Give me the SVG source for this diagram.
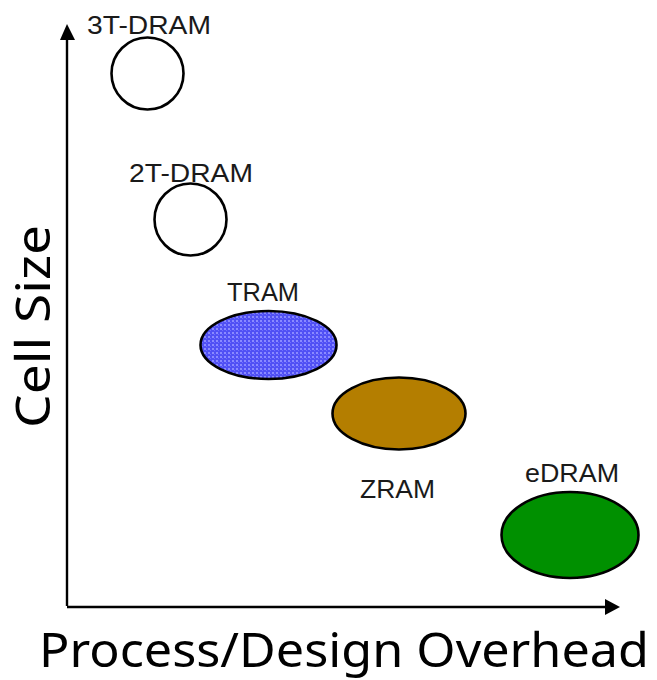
<svg xmlns="http://www.w3.org/2000/svg" width="657" height="680" viewBox="0 0 657 680">
<style>
.lbl{font-family:"Liberation Sans",Arial,sans-serif;font-size:25px;fill:#1a1a1a}
.big{font-family:"Noto Sans","Liberation Sans",sans-serif;font-size:47px;fill:#000}
.shape{stroke:#000;stroke-width:2.6}
.axis{stroke:#000;stroke-width:2.4;fill:none}
</style>
<defs>
<pattern id="dots" width="4" height="4" patternUnits="userSpaceOnUse">
<rect width="4" height="4" fill="#5050f4"/>
<rect x="0" y="0" width="2" height="2" fill="#8a8aff"/>
<rect x="2" y="2" width="1" height="1" fill="#7070ff"/>
</pattern>
</defs>
<rect width="657" height="680" fill="#fff"/>
<g id="axes">
<line class="axis" x1="67" y1="38" x2="67" y2="606"/>
<polygon points="67,24 60,40 75,40" fill="#000"/>
<line class="axis" x1="67" y1="607" x2="607" y2="607"/>
<polygon points="620,607 605,599 605,615" fill="#000"/>
</g>
<g id="n3t">
<circle class="shape" cx="147.5" cy="73.5" r="36" fill="#fff"/>
<text class="lbl" x="87" y="34" textLength="124" lengthAdjust="spacingAndGlyphs">3T-DRAM</text>
</g>
<g id="n2t">
<circle class="shape" cx="190.5" cy="219.5" r="36" fill="#fff"/>
<text class="lbl" x="129" y="182" textLength="124" lengthAdjust="spacingAndGlyphs">2T-DRAM</text>
</g>
<g id="tram">
<ellipse class="shape" cx="268.5" cy="345" rx="68" ry="34" fill="url(#dots)"/>
<text class="lbl" x="227" y="301" textLength="72" lengthAdjust="spacingAndGlyphs">TRAM</text>
</g>
<g id="zram">
<ellipse class="shape" cx="399" cy="413.5" rx="66.5" ry="36" fill="#b47e00"/>
<text class="lbl" x="360" y="498" textLength="75" lengthAdjust="spacingAndGlyphs">ZRAM</text>
</g>
<g id="edram">
<ellipse class="shape" cx="570" cy="535" rx="68.5" ry="43" fill="#009000"/>
<text class="lbl" x="525" y="482" textLength="94" lengthAdjust="spacingAndGlyphs">eDRAM</text>
</g>
<text class="big" x="39" y="667" textLength="610" lengthAdjust="spacingAndGlyphs">Process/Design Overhead</text>
<text class="big" transform="translate(50,428) rotate(-90)" textLength="203" lengthAdjust="spacingAndGlyphs">Cell Size</text>
</svg>
